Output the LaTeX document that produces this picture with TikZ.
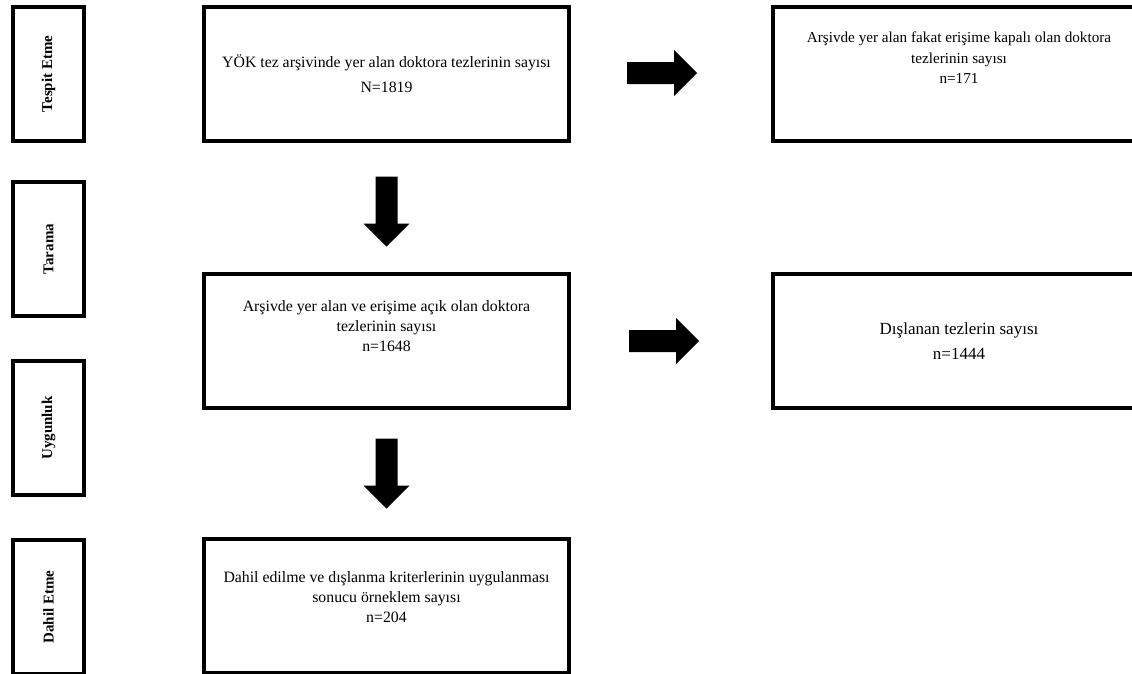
\documentclass[tikz,border=0pt]{standalone}
\usepackage{fontspec}
\setmainfont{Liberation Serif}
\usetikzlibrary{positioning,calc}

\tikzset{
    stage/.style={draw, line width=3.5pt, outer sep=0pt, inner sep=0pt,
        minimum width=71pt, minimum height=134pt,
        font=\fontsize{15}{18}\selectfont\bfseries},
    countbox/.style={draw, line width=3.5pt, outer sep=0pt, inner sep=0pt,
        minimum width=365pt, minimum height=134pt, align=center,
        font=\fontsize{15.8}{20}\selectfont},
    fatarrow/.pic={
        \fill[black] (-35,-11) -- (12,-11) -- (12,-23) -- (35,0)
            -- (12,23) -- (12,11) -- (-35,11) -- cycle;
    }
}

\begin{document}
\begin{tikzpicture}[x=1pt, y=1pt]
    \useasboundingbox (0,0) rectangle (1132,-673);

    \node[countbox, font=\fontsize{15.8}{25}\selectfont] (nArsiv) at (386.5,-74)
        {YÖK tez arşivinde yer alan doktora tezlerinin sayısı\\N=1819};
    \node[countbox, below=133pt of nArsiv, text depth=30pt] (nAcik)
        {Arşivde yer alan ve erişime açık olan doktora\\tezlerinin sayısı\\n=1648};
    \node[countbox, below=131pt of nAcik, text depth=18pt] (nOrneklem)
        {Dahil edilme ve dışlanma kriterlerinin uygulanması\\sonucu örneklem sayısı\\n=204};
    \node[countbox, right=204pt of nArsiv, minimum width=372pt, text depth=32pt,
        font=\fontsize{15.2}{20.5}\selectfont] (nKapali)
        {Arşivde yer alan fakat erişime kapalı olan doktora\\tezlerinin sayısı\\n=171};
    \node[countbox, right=204pt of nAcik, minimum width=372pt,
        font=\fontsize{17}{25}\selectfont] (nDislanan)
        {Dışlanan tezlerin sayısı\\n=1444};

    \node[stage, left=120pt of nArsiv] (stTespit) {\rotatebox{90}{Tespit Etme}};
    \node[stage, below=41pt of stTespit] (stTarama) {\rotatebox{90}{Tarama}};
    \node[stage, below=45pt of stTarama] (stUygun) {\rotatebox{90}{Uygunluk}};
    \node[stage, below=45pt of stUygun] (stDahil) {\rotatebox{90}{Dahil Etme}};

    \pic[rotate=-90] (arrAcik) at ($(nArsiv.south)!0.5!(nAcik.north)+(0,-4)$) {fatarrow};
    \pic[rotate=-90] (arrOrneklem) at ($(nAcik.south)!0.5!(nOrneklem.north)$) {fatarrow};
    \pic (arrKapali) at ($(nArsiv.east)!0.5!(nKapali.west)+(-9,1)$) {fatarrow};
    \pic (arrDislanan) at ($(nAcik.east)!0.5!(nDislanan.west)+(-7,0)$) {fatarrow};
\end{tikzpicture}
\end{document}
